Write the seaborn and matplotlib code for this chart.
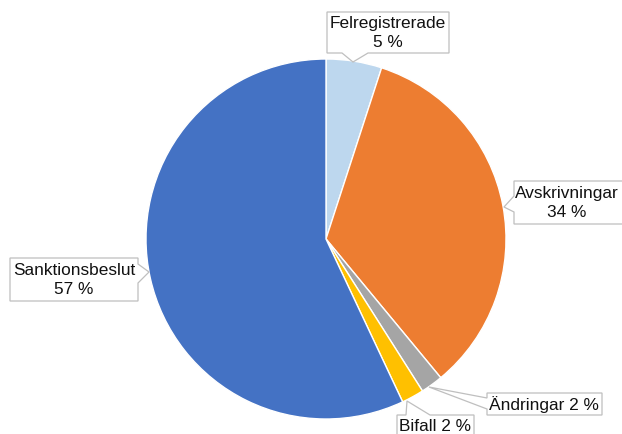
import matplotlib
matplotlib.use("Agg")
import matplotlib.pyplot as plt
from matplotlib.patches import Polygon
import seaborn as sns

categories = ["Felregistrerade", "Avskrivningar", "Ändringar", "Bifall", "Sanktionsbeslut"]
values = [5, 34, 2, 2, 57]
colors = ["#BDD7EE", "#ED7D31", "#A5A5A5", "#FFC000", "#4472C4"]

sns.set_theme(style="white")
plt.rcParams["font.family"] = ["Liberation Sans", "DejaVu Sans"]

W, H = 622, 435
fig = plt.figure(figsize=(W / 100, H / 100), dpi=100)
ax = fig.add_axes([0, 0, 1, 1])

ax.pie(values, colors=colors, startangle=90, counterclock=False,
       center=(326, H - 240), radius=180,
       wedgeprops=dict(edgecolor="white", linewidth=1.0), frame=True)
ax.set_xlim(0, W)
ax.set_ylim(0, H)
ax.axis("off")


def Y(y):
    return H - y


def callout(box, side, base, tip):
    x0, y0, x1, y1 = box
    pts = [(x0, y0)]
    if side == "top":
        pts += [(base[0], y0), tip, (base[1], y0)]
    pts.append((x1, y0))
    if side == "right":
        pts += [(x1, base[0]), tip, (x1, base[1])]
    pts.append((x1, y1))
    if side == "bottom":
        pts += [(base[1], y1), tip, (base[0], y1)]
    pts.append((x0, y1))
    if side == "left":
        pts += [(x0, base[1]), tip, (x0, base[0])]
    poly = Polygon([(px, Y(py)) for px, py in pts], closed=True,
                   facecolor="white", edgecolor="#BFBFBF", linewidth=0.9, zorder=5)
    ax.add_patch(poly)


fs = 12.4
ls = 1.35
tc = "#111111"
labels = [f"{c}\n{v} %" for c, v in zip(categories, values)]

# Felregistrerade
callout((327, 13, 449, 54), "bottom", (342, 368), (353, 63))
ax.text(388, Y(33), labels[0], ha="center", va="center", fontsize=fs,
        linespacing=ls, zorder=6, color=tc)
# Avskrivningar
callout((514, 182, 640, 225), "left", (197, 213), (504, 208))
ax.text(567, Y(203), labels[1], ha="center", va="center", fontsize=fs,
        linespacing=ls, zorder=6, color=tc)
# Sanktionsbeslut
callout((10, 259, 138, 302), "right", (265, 284), (149, 273))
ax.text(74, Y(280), labels[4], ha="center", va="center", fontsize=fs,
        linespacing=ls, zorder=6, color=tc)
# Ändringar
callout((487, 394, 602, 416), "left", (399, 410), (429, 388))
ax.text(544, Y(405), f"{categories[2]} {values[2]} %", ha="center", va="center",
        fontsize=fs, zorder=6, color=tc)
# Bifall
callout((397, 416, 474, 450), "top", (406, 430), (407, 402))
ax.text(435, Y(427), f"{categories[3]} {values[3]} %", ha="center", va="center",
        fontsize=fs, zorder=6, color=tc)

fig.savefig("out.png", dpi=100, facecolor="white")
